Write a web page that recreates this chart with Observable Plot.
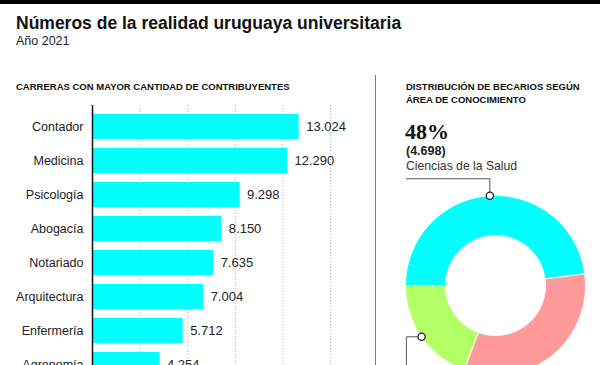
<!DOCTYPE html>
<html>
<head>
<meta charset="utf-8">
<script src="https://cdn.jsdelivr.net/npm/d3@7"></script>
<script src="https://cdn.jsdelivr.net/npm/@observablehq/plot@0.6"></script>
<style>
  html, body { margin: 0; padding: 0; background: #fff; }
  body { width: 600px; height: 365px; overflow: hidden; position: relative; font-family: "Liberation Sans", Arial, sans-serif; color: #222; }
  .abs { position: absolute; white-space: nowrap; }
  #topbar { left: 0; top: 0; width: 600px; height: 4px; background: #000; }
  #title { left: 16px; top: 13px; font-size: 17.5px; font-weight: bold; color: #111; line-height: 20px; }
  #subtitle { left: 16px; top: 34px; font-size: 12.5px; line-height: 14px; color: #222; }
  .hdr { font-size: 9.5px; font-weight: bold; color: #111; line-height: 13px; }
  #hdrL { left: 16px; top: 80px; }
  #hdrR { left: 406px; top: 80px; }
  #divider { left: 375px; top: 75px; width: 1.3px; height: 300px; background: #7a7a7a; }
  #pct { left: 405px; top: 119px; font-family: "Liberation Serif", "Times New Roman", serif; font-weight: bold; font-size: 22px; line-height: 26px; color: #111; }
  #cnt { left: 406px; top: 144px; font-weight: bold; font-size: 12.5px; line-height: 14px; color: #222; }
  #area { left: 406px; top: 159px; font-size: 12.2px; line-height: 14px; color: #333; }
  #bars { left: 0; top: 100px; }
  #donut { left: 395px; top: 170px; }
</style>
</head>
<body>
<div class="abs" id="topbar"></div>
<div class="abs" id="title">Números de la realidad uruguaya universitaria</div>
<div class="abs" id="subtitle">Año 2021</div>
<div class="abs hdr" id="hdrL">CARRERAS CON MAYOR CANTIDAD DE CONTRIBUYENTES</div>
<div class="abs hdr" id="hdrR">DISTRIBUCIÓN DE BECARIOS SEGÚN<br>ÁREA DE CONOCIMIENTO</div>
<div class="abs" id="divider"></div>
<div class="abs" id="pct"></div>
<div class="abs" id="cnt"></div>
<div class="abs" id="area"></div>
<div class="abs" id="bars"></div>
<div class="abs" id="donut"></div>
<script>
// ---- Data ----
const carreras = ["Contador", "Medicina", "Psicología", "Abogacía", "Notariado", "Arquitectura", "Enfermería", "Agronomía"];
const contribuyentes = [13024, 12290, 9298, 8150, 7635, 7004, 5712, 4254];
const gridTicks = [3000, 6000, 9000, 12000, 15000];

const areas = ["Ciencias de la Salud", "Otras áreas", "Otras áreas 2"];
const becarios = [4698, 3200, 1890];
const areaColors = ["#00FFFF", "#FF9A9A", "#B3FF66"];
const labeledAreas = ["Ciencias de la Salud", "Otras áreas 2"];

// ---- Formatting ----
const loc = d3.formatLocale({decimal: ",", thousands: ".", grouping: [3], currency: ["$", ""]});
const fmt = loc.format(",d");

// ---- Bar chart ----
const barData = carreras.map((c, i) => ({carrera: c, valor: contribuyentes[i]}));
const bars = Plot.plot({
  width: 370,
  height: 286,
  marginLeft: 92,
  marginRight: 40,
  marginTop: 5,
  marginBottom: 0,
  style: {fontFamily: "Liberation Sans, Arial, sans-serif", background: "transparent", color: "#222"},
  x: {domain: [0, 15000], axis: null},
  y: {domain: carreras, paddingInner: 0.27, paddingOuter: 0.224, axis: null},
  marks: [
    Plot.ruleX(gridTicks, {stroke: "#b5b5b5", strokeDasharray: "1,2", strokeWidth: 1}),
    Plot.barX(barData, {x: "valor", y: "carrera", fill: "#00FFFF"}),
    Plot.ruleX([0], {stroke: "#111", strokeWidth: 1.5}),
    Plot.text(barData, {x: "valor", y: "carrera", text: d => fmt(d.valor), dx: 7, textAnchor: "start", fontSize: 13, fill: "#222"}),
    Plot.axisY({tickSize: 0, tickPadding: 9, fontSize: 12.5, label: null, fill: "#222"})
  ]
});
document.getElementById("bars").appendChild(bars);

// ---- Donut ----
const total = d3.sum(becarios);
const pie = d3.pie().sort(null).startAngle(-Math.PI / 2).endAngle(3 * Math.PI / 2)(becarios);
const rOuter = 1, rInner = 50 / 90;
const slicePts = [];
pie.forEach((p, i) => {
  const n = Math.max(8, Math.ceil((p.endAngle - p.startAngle) / (Math.PI / 180)));
  for (let k = 0; k <= n; k++) {
    const a = p.startAngle + (p.endAngle - p.startAngle) * k / n;
    slicePts.push({area: areas[i], x: rOuter * Math.sin(a), y: rOuter * Math.cos(a)});
  }
  for (let k = n; k >= 0; k--) {
    const a = p.startAngle + (p.endAngle - p.startAngle) * k / n;
    slicePts.push({area: areas[i], x: rInner * Math.sin(a), y: rInner * Math.cos(a)});
  }
});

// leader lines (annotation layout)
const leaderPts = [];
const dotPts = [];
const textLeft = -0.99;
pie.forEach((p, i) => {
  if (!labeledAreas.includes(areas[i])) return;
  const mid = (p.startAngle + p.endAngle) / 2;
  const mx = Math.sin(mid), my = Math.cos(mid);
  dotPts.push({x: mx, y: my});
  if (my > 0) {
    const ly = 1.186;
    leaderPts.push({k: areas[i], x: textLeft, y: ly}, {k: areas[i], x: mx, y: ly}, {k: areas[i], x: mx, y: my});
  } else {
    leaderPts.push({k: areas[i], x: mx, y: my}, {k: areas[i], x: textLeft, y: my}, {k: areas[i], x: textLeft, y: -1.4});
  }
});

const donut = Plot.plot({
  width: 200,
  height: 220,
  marginLeft: 10,
  marginRight: 10,
  marginTop: 25,
  marginBottom: 15,
  style: {background: "transparent"},
  x: {domain: [-1, 1], axis: null},
  y: {domain: [-1, 1], axis: null},
  color: {domain: areas, range: areaColors},
  marks: [
    Plot.line(slicePts, {x: "x", y: "y", z: "area", fill: "area", stroke: "#fff", strokeWidth: 1, curve: "linear-closed"}),
    Plot.line(leaderPts, {x: "x", y: "y", z: "k", stroke: "#555", strokeWidth: 1}),
    Plot.dot(dotPts, {x: "x", y: "y", r: 3.6, fill: "#fff", stroke: "#222", strokeWidth: 1.3})
  ]
});
document.getElementById("donut").appendChild(donut);

// Labels for main slice
document.getElementById("pct").textContent = Math.round(becarios[0] / total * 100) + "%";
document.getElementById("cnt").textContent = "(" + fmt(becarios[0]) + ")";
document.getElementById("area").textContent = areas[0];
</script>
</body>
</html>
